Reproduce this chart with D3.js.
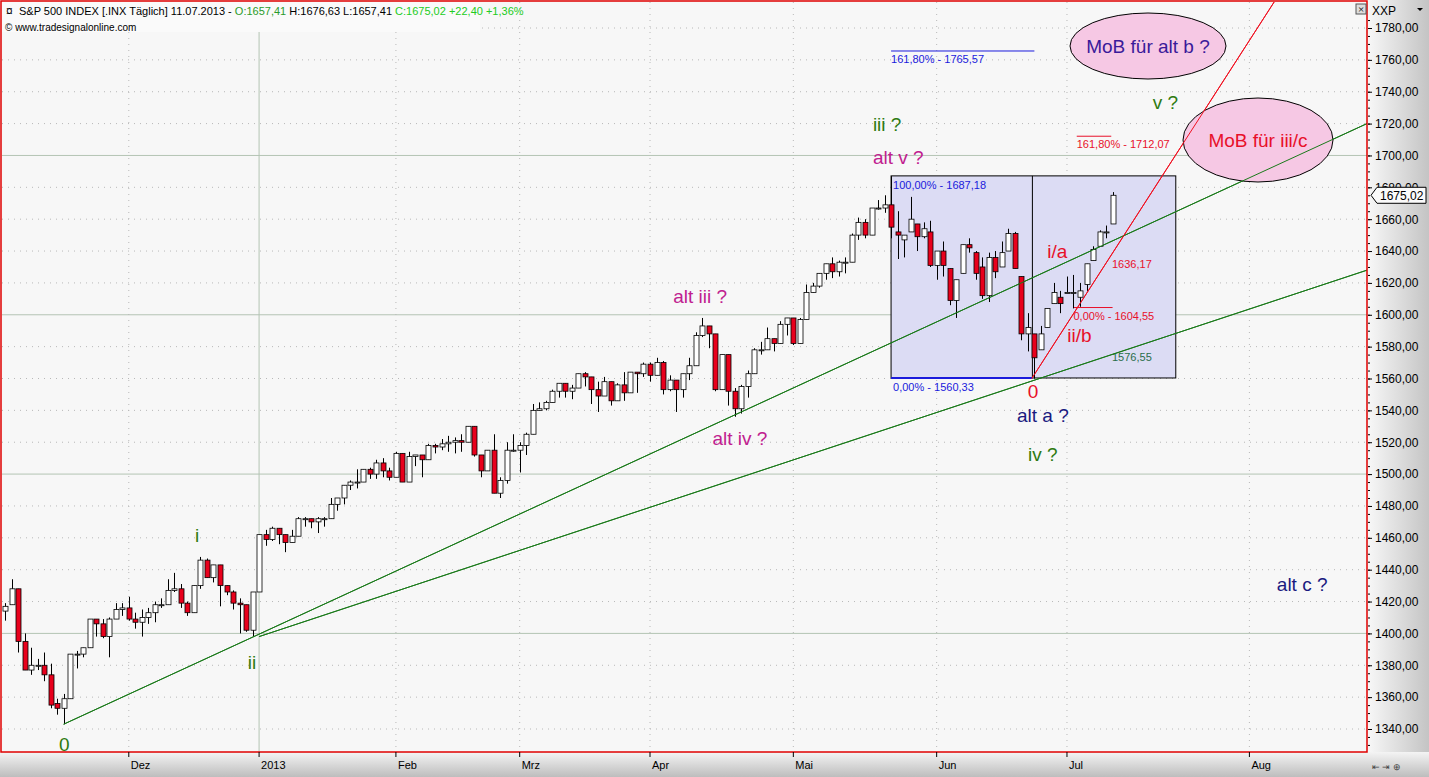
<!DOCTYPE html>
<html><head><meta charset="utf-8">
<script src="https://cdn.jsdelivr.net/npm/d3@7"></script>
<style>body{margin:0;background:#fff;overflow:hidden}svg{display:block}</style>
</head><body>
<svg id="c" width="1429" height="777"></svg>
<script>
const opens=[1414,1418,1428,1395,1377,1380,1380,1374,1356,1353,1359,1387,1387,1391,1409,1406,1398,1409,1415,
1416,1409,1407,1410,1413,1418,1418,1427,1428,1419,1413,1430,1446,1435,1443,1430,1426,1419,1418,1402,
1426,1462,1459,1466,1462,1457,1461,1472,1472,1470,1472,1472,1481,1485,1493,1495,1495,1503,1500,1507,1502,
1498,1513,1495,1511,1512,1509,1518,1517,1519,1520,1521,1520,1530,1512,1502,1515,1488,1496,1515,
1515,1518,1525,1540,1541,1545,1552,1557,1552,1554,1563,1561,1553,1549,1558,1546,1556,1551,1564,1563,
1569,1562,1570,1553,1559,1553,1563,1568,1587,1593,1588,1553,1575,1552,1541,1555,1563,1578,1578,1585,1582,1594,
1598,1582,1597,1614,1618,1626,1632,1627,1633,1633,1650,1658,1650,1667,1667,1669,1652,1647,1652,1657,1649,1652,
1631,1640,1629,1609,1626,1644,1639,1630,1612,1636,1630,1640,1651,1624,1588,1588,1578,1592,1607,1611,
1614,1614,1611,1619,1634,1643,1652,1657];
const highs=[1419,1434,1428,1400,1391,1384,1388,1381,1359,1362,1387,1389,1391,1409,1409,1409,1410,1419,1419,
1423,1413,1415,1416,1420,1422,1434,1438,1431,1420,1430,1448,1447,1443,1443,1430,1427,1422,1418,1426,
1462,1465,1467,1466,1462,1465,1473,1473,1472,1473,1473,1485,1485,1493,1496,1503,1503,1504,1509,1510,1504,
1514,1513,1514,1512,1512,1519,1519,1522,1524,1523,1525,1530,1530,1512,1515,1525,1498,1520,1525,
1520,1526,1544,1545,1546,1553,1557,1557,1556,1563,1564,1561,1558,1561,1558,1557,1564,1564,1564,1570,
1570,1573,1571,1562,1559,1563,1573,1589,1598,1593,1588,1575,1575,1554,1556,1565,1579,1583,1592,1585,1596,1598,
1598,1598,1619,1620,1626,1632,1636,1634,1636,1651,1661,1660,1667,1672,1675,1687,1665,1650,1674,1657,1658,1659,
1640,1646,1629,1622,1644,1648,1640,1636,1639,1640,1646,1654,1652,1624,1601,1588,1593,1604,1620,1615,
1624,1625,1620,1632,1643,1653,1656,1677];
const lows=[1408,1418,1388,1377,1374,1377,1370,1353,1349,1343,1359,1378,1385,1391,1398,1397,1385,1409,1411,
1408,1403,1398,1406,1407,1416,1418,1426,1416,1411,1413,1428,1435,1432,1417,1424,1415,1400,1401,1398,
1426,1455,1458,1456,1451,1457,1461,1467,1466,1463,1467,1472,1477,1481,1490,1491,1495,1497,1497,1498,1496,
1498,1495,1495,1505,1498,1509,1513,1515,1514,1513,1514,1520,1511,1498,1502,1488,1485,1494,1514,
1501,1512,1525,1540,1540,1545,1548,1548,1547,1554,1555,1544,1539,1549,1543,1546,1546,1551,1551,1561,
1558,1562,1550,1552,1539,1548,1559,1568,1586,1579,1552,1553,1543,1536,1538,1548,1563,1575,1578,1577,1582,1587,
1581,1582,1597,1614,1617,1622,1623,1624,1626,1633,1647,1648,1650,1666,1664,1648,1635,1636,1652,1640,1648,1630,
1622,1624,1606,1598,1626,1639,1622,1610,1608,1623,1630,1640,1629,1584,1577,1560,1578,1592,1607,1601,
1614,1604,1605,1615,1634,1643,1648,1657];
const closes=[1417,1428,1395,1377,1380,1380,1374,1355,1353,1359,1387,1387,1391,1409,1406,1398,1409,1415,1416,
1409,1407,1410,1413,1418,1418,1427,1428,1419,1413,1430,1446,1435,1443,1430,1426,1419,1418,1402,1426,
1462,1459,1466,1462,1457,1461,1472,1472,1470,1472,1472,1481,1485,1493,1495,1495,1503,1500,1507,1502,1498,
1513,1495,1511,1512,1509,1518,1517,1519,1520,1521,1520,1530,1512,1502,1515,1488,1496,1515,1515,
1518,1525,1540,1541,1545,1552,1557,1552,1554,1563,1561,1553,1549,1558,1546,1556,1551,1564,1563,1569,
1562,1570,1553,1559,1553,1563,1568,1587,1593,1588,1553,1575,1552,1541,1555,1563,1578,1578,1585,1582,1594,1598,
1582,1597,1614,1618,1626,1632,1627,1633,1633,1650,1658,1650,1667,1667,1669,1655,1650,1650,1660,1649,1654,1631,
1640,1631,1609,1622,1644,1642,1626,1612,1636,1627,1639,1651,1629,1588,1592,1573,1588,1604,1614,1607,
1614,1614,1615,1632,1641,1652,1652,1675];
const monthLabels=["Dez","2013","Feb","Mrz","Apr","Mai","Jun","Jul","Aug"];
const monthIdx=[19,39,60,79,99,121,143,163,191];
const yTicks=d3.range(1340,1781,20);
// trend lines [i1,v1,i2,v2]
const greenLines=[[9,1343,209.05,1720],[39,1398,209.05,1628]];
const redLine=[157.6,1560,195,1797.6];
const fibBox={i1:136,i2:179.7,iMid:158,lo:1560.33,hi:1687.18};
const fibLevels=[
 {i1:136,i2:158,v:1765.57,t:"161,80% - 1765,57",c:"#1a1adc"},
 {i1:164.5,i2:169.8,v:1712.07,t:"161,80% - 1712,07",c:"#e8102a"},
 {i1:164,i2:170,v:1604.55,t:"0,00% - 1604,55",c:"#e8102a"}];
const waveLabels=[
 {t:"0",i:9.1,v:1326.2,c:"#2e7a10"},{t:"i",i:29.5,v:1457.4,c:"#2e7a10"},{t:"ii",i:37.9,v:1377.7,c:"#2e7a10"},
 {t:"iii ?",i:135.4,v:1715.4,c:"#2e7a10"},{t:"alt v ?",i:137.1,v:1694.7,c:"#c0208f"},
 {t:"alt iii ?",i:106.7,v:1607.4,c:"#c0208f"},{t:"alt iv ?",i:112.8,v:1518.3,c:"#c0208f"},
 {t:"0",i:157.8,v:1547.8,c:"#e8102a"},{t:"alt a ?",i:159.3,v:1532.7,c:"#1a1a80"},
 {t:"iv ?",i:159.3,v:1508.2,c:"#2e7a10"},{t:"i/a",i:161.5,v:1635.7,c:"#e8102a"},
 {t:"ii/b",i:164.9,v:1582.9,c:"#e8102a"},{t:"v ?",i:178.1,v:1729.2,c:"#2e7a10"},
 {t:"alt c ?",i:199.1,v:1426.4,c:"#1a1a80"}];

const svg=d3.select("#c");
const x=d3.scaleLinear().domain([-0.46,209.05]).range([2,1367]);
const y=d3.scaleLinear().domain([1340,1780]).range([729,28]);
const defs=svg.append("defs");
const g1=defs.append("linearGradient").attr("id","gb").attr("x1",0).attr("y1",0).attr("x2",0).attr("y2",1);
g1.append("stop").attr("offset",0).attr("stop-color","#f4f4f4");g1.append("stop").attr("offset",1).attr("stop-color","#bdbdbd");
const g2=defs.append("linearGradient").attr("id","gr").attr("x1",0).attr("y1",0).attr("x2",1).attr("y2",0);
g2.append("stop").attr("offset",0).attr("stop-color","#f8f8f8");g2.append("stop").attr("offset",1).attr("stop-color","#c4c4c4");
defs.append("clipPath").attr("id","pc").append("rect").attr("x",2).attr("y",2).attr("width",1365).attr("height",750);

svg.append("rect").attr("x",0).attr("y",0).attr("width",1429).attr("height",777).attr("fill","#f7f7f7");
svg.append("rect").attr("x",1367).attr("y",0).attr("width",62).attr("height",752).attr("fill","url(#gr)");
svg.append("rect").attr("x",0).attr("y",752).attr("width",1429).attr("height",25).attr("fill","url(#gb)");

const P=svg.append("g").attr("clip-path","url(#pc)");
yTicks.forEach(v=>{
 const solid=v%100===0;
 P.append("line").attr("x1",2).attr("x2",1367).attr("y1",y(v)).attr("y2",y(v))
  .attr("stroke",solid?"#b4c4b4":"#b8b8b8").attr("stroke-width",1).attr("stroke-dasharray",solid?null:"1,5");
});
monthIdx.forEach((m,k)=>{
 P.append("line").attr("x1",x(m)).attr("x2",x(m)).attr("y1",2).attr("y2",752)
  .attr("stroke",k===1?"#b4c4b4":"#b8b8b8").attr("stroke-dasharray",k===1?null:"1,5");
});
P.append("rect").attr("x",x(fibBox.i1)).attr("y",y(fibBox.hi)).attr("width",x(fibBox.i2)-x(fibBox.i1))
 .attr("height",y(fibBox.lo)-y(fibBox.hi)).attr("fill","#dcdcf4").attr("stroke","#000");
P.append("line").attr("x1",x(fibBox.iMid)-2).attr("x2",x(fibBox.iMid)-2).attr("y1",y(fibBox.hi)).attr("y2",y(fibBox.lo)).attr("stroke","#000");
P.append("line").attr("x1",x(fibBox.i1)).attr("x2",x(fibBox.iMid)-2).attr("y1",y(fibBox.lo)).attr("y2",y(fibBox.lo)).attr("stroke","#1a1adc").attr("stroke-width",2);
P.append("text").attr("x",x(fibBox.i1)+2).attr("y",y(fibBox.hi)+13).text("100,00% - 1687,18").attr("fill","#1a1adc").attr("font-size",11).attr("font-family","Liberation Sans");
P.append("text").attr("x",x(fibBox.i1)+2).attr("y",y(fibBox.lo)+13).text("0,00% - 1560,33").attr("fill","#1a1adc").attr("font-size",11).attr("font-family","Liberation Sans");
fibLevels.forEach(f=>{
 P.append("line").attr("x1",x(f.i1)).attr("x2",x(f.i2)).attr("y1",y(f.v)).attr("y2",y(f.v)).attr("stroke",f.c);
 P.append("text").attr("x",x(f.i1)).attr("y",y(f.v)+12).text(f.t).attr("fill",f.c).attr("font-size",11).attr("font-family","Liberation Sans");
});
P.append("text").attr("x",1112).attr("y",268).text("1636,17").attr("fill","#e8102a").attr("font-size",11).attr("font-family","Liberation Sans");
P.append("text").attr("x",1112).attr("y",361).text("1576,55").attr("fill","#2a6e4a").attr("font-size",11).attr("font-family","Liberation Sans");
function drawLines(){
 greenLines.forEach(l=>P.append("line").attr("x1",x(l[0])).attr("y1",y(l[1])).attr("x2",x(l[2])).attr("y2",y(l[3])).attr("stroke","#1a7a1a"));
 P.append("line").attr("x1",x(redLine[0])).attr("y1",y(redLine[1])).attr("x2",x(redLine[2])).attr("y2",y(redLine[3])).attr("stroke","#f01020");
}
drawLines();
const bw=5;
closes.forEach((c,i)=>{
 const o=opens[i],up=c>=o,cx=Math.round(x(i))+0.5;
 P.append("line").attr("x1",cx).attr("x2",cx).attr("y1",y(highs[i])).attr("y2",y(lows[i])).attr("stroke","#000");
 const t=y(Math.max(o,c)),b=y(Math.min(o,c));
 P.append("rect").attr("x",cx-bw/2).attr("y",t).attr("width",bw).attr("height",Math.max(1,b-t))
  .attr("fill",up?"#fff":"#e8001c").attr("stroke","#000").attr("stroke-width",0.8);
});
[[1148,46,78,33,"MoB für alt b ?","#3a1a9a"],[1258,140,75,42,"MoB für iii/c","#e8102a"]].forEach(e=>{
 P.append("ellipse").attr("cx",e[0]).attr("cy",e[1]).attr("rx",e[2]).attr("ry",e[3]).attr("fill","#f6c8e4").attr("stroke","#000");
 P.append("text").attr("x",e[0]).attr("y",e[1]+7).attr("text-anchor","middle").text(e[4]).attr("fill",e[5]).attr("font-size",19).attr("font-family","Liberation Sans");
});
drawLines();
waveLabels.forEach(w=>P.append("text").attr("x",x(w.i)).attr("y",y(w.v)).attr("text-anchor","middle").text(w.t).attr("fill",w.c).attr("font-size",19).attr("font-family","Liberation Sans"));
svg.append("rect").attr("x",2).attr("y",2).attr("width",478).attr("height",30).attr("fill","#fafafa");
const h=svg.append("text").attr("x",19).attr("y",15).attr("font-size",11).attr("font-family","Liberation Sans");
h.append("tspan").text("S&P 500 INDEX [.INX  Täglich] 11.07.2013 - ").attr("fill","#000");
h.append("tspan").text("O:1657,41").attr("fill","#2a9a2a");
h.append("tspan").text(" H:1676,63 L:1657,41 ").attr("fill","#000");
h.append("tspan").text("C:1675,02 +22,40 +1,36%").attr("fill","#22cc22");
svg.append("text").attr("x",6).attr("y",15).text("¤").attr("font-size",12).attr("font-family","Liberation Sans");
svg.append("text").attr("x",5).attr("y",31).text("© www.tradesignalonline.com").attr("font-size",10).attr("font-family","Liberation Sans");
svg.append("rect").attr("x",1).attr("y",1).attr("width",1366).attr("height",751).attr("fill","none").attr("stroke","#e00000").attr("stroke-width",1.5);
svg.append("rect").attr("x",1356).attr("y",4).attr("width",10).attr("height",10).attr("fill","#ddd").attr("stroke","#555");
svg.append("text").attr("x",1361).attr("y",13).attr("text-anchor","middle").text("×").attr("font-size",11);
const ra=svg.append("g").attr("transform","translate(1368,0)");
ra.call(d3.axisRight(y).tickValues(yTicks).tickSize(4).tickFormat(v=>d3.format(".2f")(v).replace(".",",")));
ra.select(".domain").remove();
ra.selectAll("text").attr("font-size",12).attr("font-family","Liberation Sans").attr("fill","#000").attr("x",7);
ra.selectAll("line").attr("stroke","#000");
ra.append("g").call(d3.axisRight(y).tickValues(d3.range(1330,1790,5)).tickSize(2).tickFormat("")).select(".domain").remove();
svg.append("text").attr("x",1372).attr("y",15).text("XXP").attr("font-size",12).attr("font-family","Liberation Sans");
svg.append("path").attr("d","M1417,8 l6,0 l-3,3 z").attr("fill","#000");
const py=y(closes[closes.length-1]);
svg.append("path").attr("d",`M1371,${py} l6,-8 h49 v16 h-49 z`).attr("fill","#fafafa").attr("stroke","#000");
svg.append("text").attr("x",1380).attr("y",py+5).text("1675,02").attr("font-size",12).attr("font-family","Liberation Sans");
const ba=svg.append("g").attr("transform","translate(0,752)");
monthIdx.forEach((m,k)=>{
 ba.append("line").attr("x1",x(m)).attr("x2",x(m)).attr("y1",0).attr("y2",5).attr("stroke","#000");
 ba.append("text").attr("x",x(m)+2).attr("y",17).text(monthLabels[k]).attr("font-size",11).attr("font-family","Liberation Sans");
});
svg.append("text").attr("x",1372).attr("y",770).text("⇤ ⇥ ⊕").attr("font-size",9).attr("fill","#444");
</script></body></html>
